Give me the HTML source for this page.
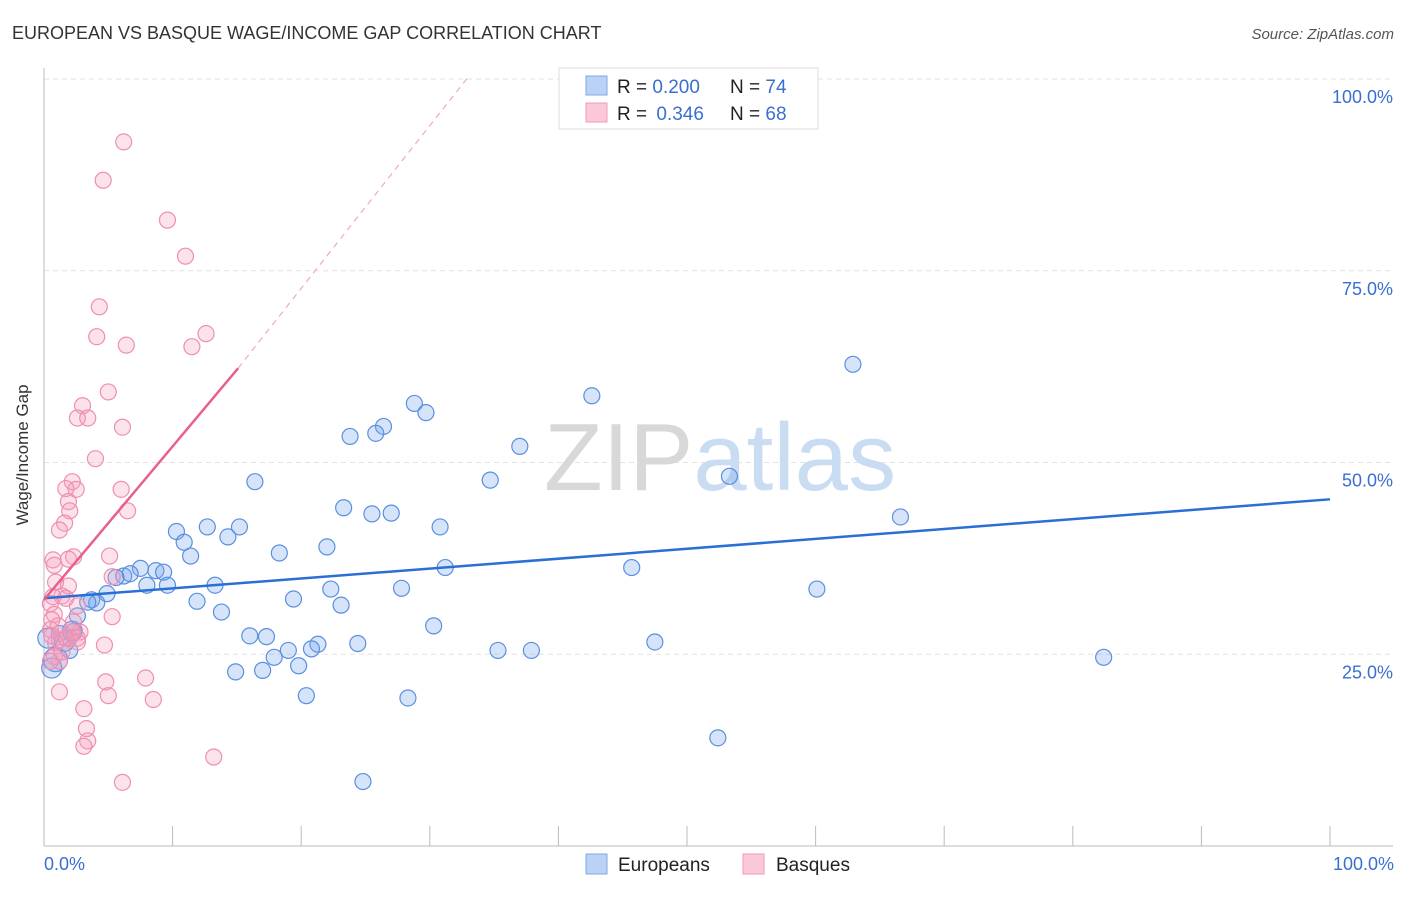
<!DOCTYPE html>
<html><head><meta charset="utf-8"><style>
body{margin:0;background:#fff;font-family:"Liberation Sans",sans-serif;}
svg text{font-family:"Liberation Sans",sans-serif;}
</style></head><body>
<svg width="1406" height="892" viewBox="0 0 1406 892">
<text x="12" y="39" font-size="18" fill="#333">EUROPEAN VS BASQUE WAGE/INCOME GAP CORRELATION CHART</text>
<text x="1394" y="39" font-size="15" fill="#555" font-style="italic" text-anchor="end">Source: ZipAtlas.com</text>
<g id="grid"></g>
<text x="720" y="490" font-size="96" fill="#ddd" text-anchor="middle" font-family="Liberation Serif"><tspan fill="#d8d8d8">ZIP</tspan><tspan fill="#c9dcf2" font-family="Liberation Sans">atlas</tspan></text>
<g id="axes"></g>
<g id="pts"></g>
<g id="lines"></g>
<text x="28" y="455" font-size="17" fill="#333" transform="rotate(-90 28 455)" text-anchor="middle">Wage/Income Gap</text>
<text x="44" y="870" font-size="18" fill="#3a6fd0">0.0%</text>
<text x="1394" y="870" font-size="18" fill="#3a6fd0" text-anchor="end">100.0%</text>
<g>
<rect x="559" y="68" width="259" height="61" fill="#fff" stroke="#ddd"/>
<rect x="586" y="76" width="21" height="19" fill="#b9d2f5" stroke="#7fa8e6"/>
<rect x="586" y="103" width="21" height="19" fill="#fbc8d8" stroke="#f09ab8"/>
<text x="617" y="93" font-size="19" fill="#222">R = <tspan fill="#3a6fd0">0.200</tspan></text>
<text x="730" y="93" font-size="19" fill="#222">N = <tspan fill="#3a6fd0">74</tspan></text>
<text x="617" y="120" font-size="19" fill="#222">R = <tspan fill="#3a6fd0" dx="4">0.346</tspan></text>
<text x="730" y="120" font-size="19" fill="#222">N = <tspan fill="#3a6fd0">68</tspan></text>
</g>
<g>
<rect x="586" y="854" width="21" height="20" fill="#b9d2f5" stroke="#7fa8e6"/>
<text x="618" y="871" font-size="19" fill="#222">Europeans</text>
<rect x="743" y="854" width="21" height="20" fill="#fbc8d8" stroke="#f09ab8"/>
<text x="776" y="871" font-size="19" fill="#222">Basques</text>
</g>
</svg>
<script>
const yTicks=[25,50,75,100];
const yTickLabels=["25.0%","50.0%","75.0%","100.0%"];
const blueX=[62.9,42.6,28.8,29.7,26.4,23.8,25.8,37.0,34.7,53.3,16.4,23.3,25.5,27.0,30.8,66.6,10.3,12.7,15.2,10.9,14.3,11.4,18.3,22.0,7.5,8.7,9.3,6.2,6.7,5.6,8.0,9.6,13.3,31.2,45.7,22.3,27.8,60.1,4.9,3.7,4.1,3.4,11.9,19.4,13.8,23.1,2.6,30.3,2.3,16.0,17.3,21.3,20.8,24.4,47.5,19.0,35.3,37.9,17.9,2.0,1.2,19.8,14.9,17.0,82.4,20.4,28.3,52.4,24.8,0.9,0.6,1.6,0.3,2.2];
const blueY=[62.8,58.7,57.7,56.5,54.7,53.4,53.8,52.1,47.7,48.2,47.5,44.1,43.3,43.4,41.6,42.9,41.0,41.6,41.6,39.6,40.3,37.8,38.2,39.0,36.2,35.9,35.7,35.2,35.5,35.0,34.0,34.0,34.0,36.3,36.3,33.5,33.6,33.5,32.9,32.1,31.7,31.8,31.9,32.2,30.5,31.4,30.0,28.7,28.0,27.4,27.3,26.3,25.7,26.4,26.6,25.5,25.5,25.5,24.6,25.5,27.7,23.5,22.7,22.9,24.6,19.6,19.3,14.1,8.4,24.3,23.2,26.7,27.1,28.0];
const blueR=[8,8,8,8,8,8,8,8,8,8,8,8,8,8,8,8,8,8,8,8,8,8,8,8,8,8,8,8,8,8,8,8,8,8,8,8,8,8,8,8,8,8,8,8,8,8,8,8,8,8,8,8,8,8,8,8,8,8,8,8,8,8,8,8,8,8,8,8,8,12,10,10,10,10];
const pinkX=[6.2,4.6,9.6,11.0,4.3,4.1,6.4,12.6,11.5,5.0,3.0,2.6,3.4,6.1,4.0,2.2,2.5,1.7,6.0,1.9,6.5,2.0,1.6,1.2,2.3,5.1,0.7,0.8,1.9,5.3,0.9,1.9,1.4,0.7,1.7,0.5,2.6,0.8,5.3,0.6,0.5,2.8,2.0,1.2,2.6,0.9,4.7,1.2,0.8,7.9,4.8,5.0,8.5,1.2,3.1,3.3,3.4,3.1,13.2,6.1,2.2,1.7,2.6,0.5,1.4,1.1,2.3,0.6];
const pinkY=[91.8,86.8,81.6,76.9,70.3,66.4,65.3,66.8,65.1,59.2,57.4,55.8,55.8,54.6,50.5,47.5,46.5,46.6,46.5,44.9,43.7,43.7,42.1,41.2,37.7,37.8,37.3,36.6,37.4,35.1,34.4,33.9,32.6,32.5,32.3,31.6,31.3,30.2,29.9,29.5,28.2,27.9,27.1,26.9,27.1,26.5,26.2,24.1,24.7,21.9,21.4,19.6,19.1,20.1,17.9,15.3,13.7,13.0,11.6,8.3,27.9,27.1,26.6,24.1,25.3,28.7,29.2,27.4];
const blueTrend=[[0,32.3],[100,45.2]];
const pinkTrend=[[0,32.1],[15.1,62.3]];
const pinkDash=[[15.1,62.3],[33.1,100.5]];
const X0=44,X1=1330,Y0=846,Y1=79;
const sx=v=>X0+(X1-X0)*v/100, sy=v=>Y0-(Y0-Y1)*v/100;
const NS="http://www.w3.org/2000/svg";
function mk(tag,attrs,parent){const e=document.createElementNS(NS,tag);for(const k in attrs)e.setAttribute(k,attrs[k]);parent.appendChild(e);return e;}
const grid=document.getElementById('grid'),axes=document.getElementById('axes');
yTicks.forEach((t,i)=>{
 const l=mk('line',{x1:44,x2:1393,y1:sy(t),y2:sy(t),stroke:'#e2e2e2','stroke-dasharray':'5,4'},grid);
 
 
 const tx=mk('text',{x:1393,y:sy(t)+24,'font-size':18,fill:'#3a6fd0','text-anchor':'end'},axes);
 tx.textContent=yTickLabels[i];
 
 
});
mk('line',{x1:44,x2:44,y1:68,y2:846,stroke:'#bbb'},axes);
mk('line',{x1:44,x2:1393,y1:846,y2:846,stroke:'#bbb'},axes);
for(let i=0;i<=10;i++){const t=mk('line',{x1:sx(i*10),x2:sx(i*10),y1:826,y2:846,stroke:'#bbb'},axes);
 
 }
const pts=document.getElementById('pts');
blueX.forEach((v,i)=>{const c=mk('circle',{cx:sx(v),cy:sy(blueY[i]),r:blueR[i],fill:'rgba(120,165,235,0.3)',stroke:'#5a8fe0','stroke-width':1.2},pts);
 
 });
pinkX.forEach((v,i)=>{const c=mk('circle',{cx:sx(v),cy:sy(pinkY[i]),r:8,fill:'rgba(245,160,190,0.3)',stroke:'#ee8fb0','stroke-width':1.2},pts);
 
 });
const lines=document.getElementById('lines');
const bl=mk('line',{x1:sx(blueTrend[0][0]),y1:sy(blueTrend[0][1]),x2:sx(blueTrend[1][0]),y2:sy(blueTrend[1][1]),stroke:'#2a6fd6','stroke-width':2.5},lines);


const pl=mk('line',{x1:sx(pinkTrend[0][0]),y1:sy(pinkTrend[0][1]),x2:sx(pinkTrend[1][0]),y2:sy(pinkTrend[1][1]),stroke:'#e8608e','stroke-width':2.5},lines);


const pd=mk('line',{x1:sx(pinkDash[0][0]),y1:sy(pinkDash[0][1]),x2:sx(pinkDash[1][0]),y2:sy(pinkDash[1][1]),stroke:'#f0a8c0','stroke-width':1.2,'stroke-dasharray':'6,5'},lines);


</script>
</body></html>
